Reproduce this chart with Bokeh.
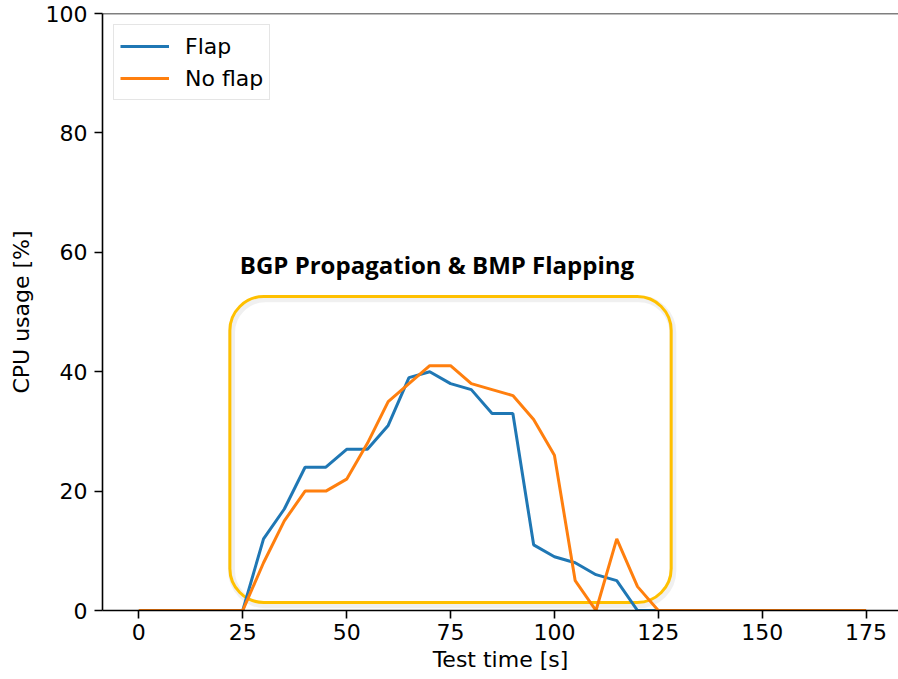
from bokeh.plotting import figure
from bokeh.models import Range1d, FixedTicker, Span, BoxAnnotation, Label, Legend, LegendItem
from bokeh.embed import file_html
from bokeh.resources import INLINE

# ---- data ----
time_s = [0, 5, 10, 15, 20, 25, 30, 35, 40, 45, 50, 55, 60, 65, 70, 75, 80, 85,
          90, 95, 100, 105, 110, 115, 120, 125, 130, 135, 140, 145, 150, 155,
          160, 165, 170, 175]
flap = [0, 0, 0, 0, 0, 0, 12, 17, 24, 24, 27, 27, 31, 39, 40, 38, 37, 33,
        33, 11, 9, 8, 6, 5, 0, 0, 0, 0, 0, 0, 0, 0, 0, 0, 0, 0]
no_flap = [0, 0, 0, 0, 0, 0, 8, 15, 20, 20, 22, 28, 35, 38, 41, 41, 38, 37,
           36, 32, 26, 5, 0, 12, 4, 0, 0, 0, 0, 0, 0, 0, 0, 0, 0, 0]
x_ticks = [0, 25, 50, 75, 100, 125, 150, 175]
y_ticks = [0, 20, 40, 60, 80, 100]
series_names = ["Flap", "No flap"]
annotation_text = "BGP Propagation & BMP Flapping"

FONT = "DejaVu Sans"
FS = "22px"

p = figure(width=898, height=679, output_backend="svg", toolbar_location=None,
           x_range=Range1d(-8.75, 182.8), y_range=Range1d(0, 100),
           min_border_left=102, min_border_right=0, min_border_top=13,
           min_border_bottom=69)
p.xgrid.grid_line_color = None
p.ygrid.grid_line_color = None
p.outline_line_color = None
p.background_fill_color = "white"
p.border_fill_color = "white"

p.xaxis.ticker = FixedTicker(ticks=x_ticks)
p.yaxis.ticker = FixedTicker(ticks=y_ticks)
p.xaxis.axis_label = "Test time [s]"
p.yaxis.axis_label = "CPU usage [%]"

for ax in (p.xaxis[0], p.yaxis[0]):
    ax.axis_line_width = 1.6
    ax.axis_line_color = "black"
    ax.major_tick_line_width = 1.6
    ax.major_tick_line_color = "black"
    ax.major_tick_out = 8
    ax.major_tick_in = 0
    ax.minor_tick_out = 0
    ax.minor_tick_in = 0
    ax.major_label_text_font = FONT
    ax.major_label_text_font_size = FS
    ax.major_label_text_color = "black"
    ax.axis_label_text_font = FONT
    ax.axis_label_text_font_size = FS
    ax.axis_label_text_font_style = "normal"
    ax.axis_label_text_color = "black"

p.xaxis.major_label_standoff = 5
p.xaxis.axis_label_standoff = 4
p.yaxis.major_label_standoff = 7
p.yaxis.axis_label_standoff = 9

# top spine
p.add_layout(Span(location=100, dimension="width", line_color="black", line_width=1.6))

# rounded highlight box (with soft shadow)
shadow = BoxAnnotation(left=22.3, right=128.5, top=52.2, bottom=0.95,
                       fill_color=None, fill_alpha=0, line_color="black",
                       line_alpha=0.06, line_width=7, border_radius=34,
                       level="underlay")
p.add_layout(shadow)
box = BoxAnnotation(left=21.9, right=128.1, top=52.6, bottom=1.34,
                    fill_color=None, fill_alpha=0, line_color="#FFC000",
                    line_alpha=1.0, line_width=3, border_radius=34,
                    level="underlay")
p.add_layout(box)

p.add_layout(Label(x=24.3, y=58.0, text=annotation_text, text_font="Open Sans",
                   text_font_style="bold", text_font_size="24px",
                   text_baseline="alphabetic", text_align="left",
                   text_color="black"))

r1 = p.line(time_s, flap, line_color="#1f77b4", line_width=3)
r2 = p.line(time_s, no_flap, line_color="#ff7f0e", line_width=3)

legend = Legend(items=[LegendItem(label=series_names[0], renderers=[r1]),
                       LegendItem(label=series_names[1], renderers=[r2])],
                location="top_left")
legend.margin = 11
legend.padding = 6
legend.spacing = 2
legend.glyph_width = 49
legend.glyph_height = 30
legend.label_height = 30
legend.label_standoff = 16
legend.label_text_font = FONT
legend.label_text_font_size = FS
legend.label_text_color = "black"
legend.border_line_color = "#cccccc"
legend.border_line_width = 1
legend.background_fill_color = "white"
legend.background_fill_alpha = 0.8
p.add_layout(legend)

open("out.html", "w").write(file_html(p, INLINE))
